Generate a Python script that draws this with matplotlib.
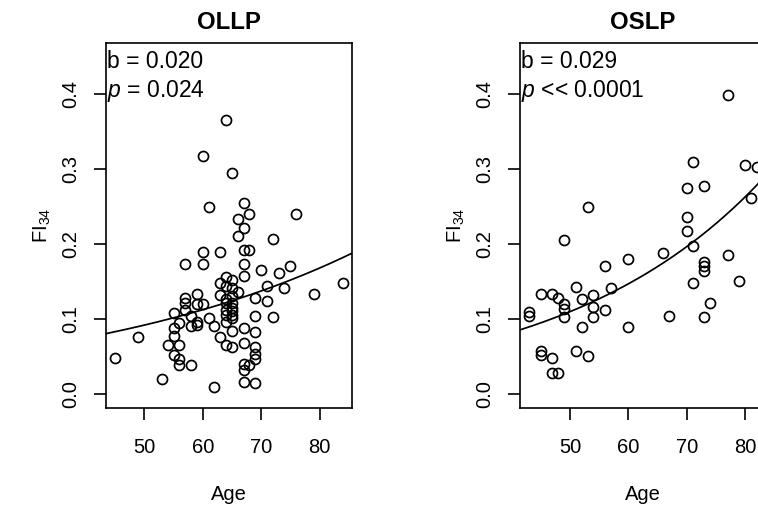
# OLLP / OSLP scatter with log-linear fit
import numpy as np
import matplotlib.pyplot as plt

plt.rcParams['font.family'] = ['Liberation Sans', 'DejaVu Sans']
plt.rcParams['mathtext.fontset'] = 'custom'
plt.rcParams['mathtext.rm'] = 'Liberation Sans'
plt.rcParams['mathtext.it'] = 'Liberation Sans:italic'

# data
ollp_age = [64, 60, 65, 61, 67, 68, 76, 66, 67, 66, 72, 60, 63, 67, 68, 57, 60, 67,
            70, 75, 73, 67, 64, 65, 63, 64, 65, 66, 71, 74, 79, 84, 63, 64, 65, 69,
            71, 57, 59, 57, 59, 60, 57, 55, 58, 64, 65, 64, 65, 65, 69, 72, 61, 59,
            56, 59, 58, 62, 55, 64, 65, 67, 69, 55, 49, 63, 54, 56, 64, 65, 67, 69,
            69, 69, 55, 56, 56, 58, 45, 67, 68, 67, 53, 62, 67, 69, 64, 65, 65]
ollp_fi = [0.365, 0.318, 0.295, 0.250, 0.255, 0.240, 0.240, 0.233, 0.222, 0.211,
           0.207, 0.190, 0.190, 0.193, 0.193, 0.174, 0.174, 0.174, 0.166, 0.171,
           0.162, 0.158, 0.157, 0.153, 0.149, 0.144, 0.142, 0.137, 0.144, 0.142,
           0.134, 0.148, 0.132, 0.127, 0.131, 0.129, 0.124, 0.129, 0.134, 0.122,
           0.120, 0.120, 0.113, 0.108, 0.104, 0.113, 0.115, 0.106, 0.106, 0.102,
           0.105, 0.103, 0.102, 0.097, 0.095, 0.092, 0.091, 0.091, 0.089, 0.097,
           0.085, 0.089, 0.083, 0.078, 0.076, 0.076, 0.066, 0.066, 0.066, 0.063,
           0.069, 0.063, 0.054, 0.047, 0.053, 0.047, 0.039, 0.039, 0.048, 0.040,
           0.039, 0.033, 0.021, 0.010, 0.017, 0.015, 0.122, 0.122, 0.111]

oslp_age = [77, 71, 80, 82, 70, 73, 53, 81, 70, 70, 49, 71, 66, 77, 60, 56, 73, 73,
            73, 71, 79, 51, 57, 45, 47, 48, 52, 54, 49, 49, 54, 56, 74, 43, 43, 49,
            54, 67, 73, 52, 60, 45, 45, 51, 53, 47, 47, 48]
oslp_fi = [0.399, 0.310, 0.306, 0.303, 0.275, 0.277, 0.250, 0.261, 0.236, 0.218,
           0.206, 0.198, 0.188, 0.186, 0.180, 0.171, 0.177, 0.171, 0.164, 0.149,
           0.151, 0.143, 0.142, 0.134, 0.134, 0.128, 0.127, 0.132, 0.121, 0.114,
           0.117, 0.112, 0.122, 0.110, 0.105, 0.103, 0.103, 0.105, 0.103, 0.090,
           0.090, 0.058, 0.053, 0.058, 0.051, 0.048, 0.029, 0.029]

# fitted curves FI = exp(a + b*age)
ollp_fit = (-3.382, 0.020)
oslp_fit = (-3.655, 0.029)

titles = ['OLLP', 'OSLP']
stats = [('b = 0.020', '$p$ = 0.024'), ('b = 0.029', '$p$ << 0.0001')]

W, H = 758, 508
fig = plt.figure(figsize=(W / 100, H / 100), dpi=100)
ax1 = fig.add_axes([106 / W, 100 / H, 246 / W, 365 / H])
ax2 = fig.add_axes([520 / W, 100 / H, 246 / W, 365 / H])


def panel(ax, age, fi, fit, title, txt):
    age = np.array(age)
    r = age.max() - age.min()
    lo, hi = age.min() - 0.04 * r, age.max() + 0.04 * r
    ax.plot(age, fi, 'o', mfc='none', mec='black', ms=7.2, mew=1.25, ls='none')
    xx = np.linspace(lo, hi, 200)
    ax.plot(xx, np.exp(fit[0] + fit[1] * xx), color='black', lw=1.25)
    ax.set_xlim(lo, hi)
    ax.set_ylim(-0.018, 0.468)
    ax.set_xticks([50, 60, 70, 80])
    ax.set_yticks([0.0, 0.1, 0.2, 0.3, 0.4])
    ax.set_yticklabels(['0.0', '0.1', '0.2', '0.3', '0.4'], rotation=90, va='center')
    ax.tick_params(direction='out', length=8.5, width=1.2, labelsize=14.5)
    ax.tick_params(axis='x', pad=13)
    ax.tick_params(axis='y', pad=10)
    for s in ax.spines.values():
        s.set_linewidth(1.2)
    ax.set_title(title, fontsize=17.3, fontweight='bold', pad=10)
    ax.set_xlabel('Age', fontsize=14.5)
    ax.xaxis.set_label_coords(0.5, -0.212)
    ax.set_ylabel('FI$_{34}$', fontsize=14.5)
    ax.yaxis.set_label_coords(-0.215, 0.5)
    ax.text(0.003, 0.931, txt[0], transform=ax.transAxes, fontsize=16.5, va='baseline')
    ax.text(0.003, 0.853, txt[1], transform=ax.transAxes, fontsize=16.5, va='baseline')


panel(ax1, ollp_age, ollp_fi, ollp_fit, titles[0], stats[0])
panel(ax2, oslp_age, oslp_fi, oslp_fit, titles[1], stats[1])

fig.savefig('out.png', dpi=100)
